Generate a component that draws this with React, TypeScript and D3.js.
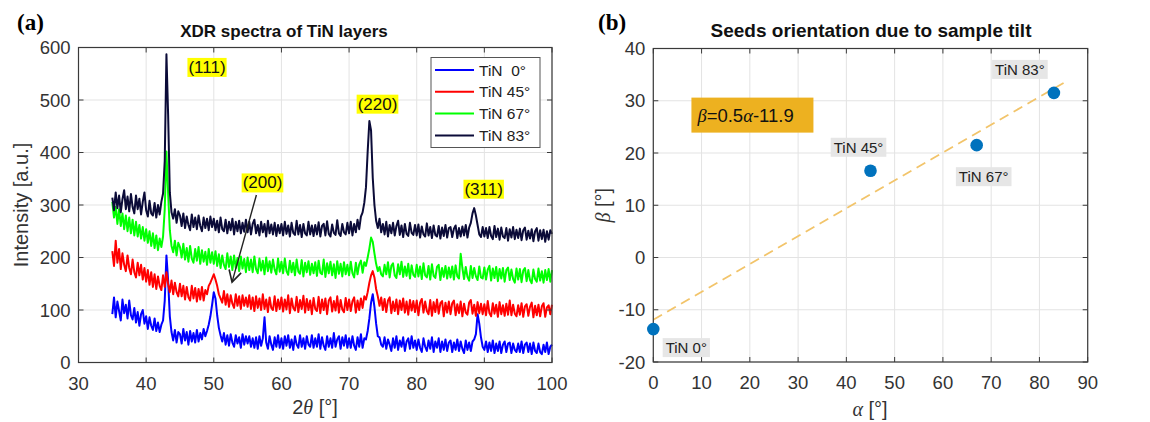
import React from "react";
import * as d3 from "d3";

// ---- XRD spectra: intensities sampled every 0.25° of 2θ, from 35° to 100° ----
const THETA_START = 35;
const THETA_STEP = 0.25;

const tin0 = [
  92, 124, 86, 116, 98, 80, 120, 94, 110, 84, 118, 90, 82, 104, 76, 96, 70, 92, 100, 74,
  88, 64, 86, 70, 62, 84, 60, 76, 58, 72, 80, 118, 204, 156, 88, 58, 42, 62, 38, 58,
  54, 36, 64, 42, 58, 34, 60, 40, 56, 38, 62, 40, 56, 44, 64, 50, 60, 72, 88, 110,
  134, 122, 90, 66, 52, 40, 56, 34, 52, 32, 54, 38, 30, 52, 36, 48, 28, 54, 34, 50,
  36, 50, 30, 46, 28, 48, 26, 50, 32, 46, 86, 38, 26, 50, 34, 24, 48, 30, 52, 28,
  46, 26, 50, 32, 52, 28, 44, 24, 50, 34, 28, 52, 30, 46, 26, 50, 34, 30, 52, 28,
  46, 30, 54, 26, 48, 32, 24, 50, 30, 46, 28, 56, 30, 44, 50, 26, 48, 32, 52, 28,
  46, 28, 50, 32, 24, 48, 30, 54, 28, 46, 44, 60, 84, 114, 130, 106, 74, 50, 48, 34,
  30, 48, 26, 44, 34, 22, 46, 28, 50, 24, 42, 30, 48, 22, 40, 46, 26, 50, 28, 42,
  24, 44, 28, 20, 46, 30, 22, 42, 26, 48, 20, 40, 28, 46, 20, 40, 24, 44, 22, 38,
  42, 20, 38, 24, 44, 22, 40, 26, 18, 42, 24, 38, 22, 40, 44, 54, 92, 74, 48, 30,
  24, 40, 20, 38, 22, 42, 18, 36, 22, 40, 18, 34, 40, 20, 36, 38, 18, 36, 24, 20,
  36, 20, 40, 18, 34, 38, 20, 36, 16, 38, 22, 18, 36, 20, 16, 34, 20, 38, 16, 30,
  34,
];

const tin45 = [
  212, 184, 232, 190, 216, 178, 208, 186, 174, 204, 180, 168, 196, 172, 162, 190, 166, 186, 158, 180,
  154, 176, 148, 172, 144, 168, 140, 164, 146, 138, 166, 144, 172, 150, 134, 156, 130, 152, 134, 126,
  150, 126, 146, 120, 144, 124, 118, 146, 122, 142, 116, 140, 120, 144, 118, 138, 130, 146, 152, 160,
  168, 158, 146, 130, 122, 114, 136, 110, 130, 106, 128, 112, 104, 130, 108, 126, 102, 128, 108, 124,
  106, 128, 102, 124, 98, 126, 104, 122, 100, 130, 102, 120, 96, 124, 104, 100, 126, 98, 120, 102,
  124, 97, 120, 101, 128, 94, 122, 104, 99, 125, 96, 119, 102, 127, 95, 121, 100, 118, 92, 123,
  102, 98, 125, 94, 120, 100, 122, 92, 118, 124, 97, 117, 99, 126, 95, 119, 101, 96, 123, 100,
  120, 98, 117, 124, 95, 118, 100, 122, 104, 126, 120, 134, 152, 166, 174, 162, 140, 126, 108, 124,
  100, 121, 96, 118, 124, 94, 116, 98, 120, 92, 118, 100, 122, 95, 116, 91, 119, 99, 117, 96,
  118, 90, 114, 121, 95, 116, 98, 92, 119, 89, 115, 96, 120, 93, 113, 117, 88, 114, 95, 116,
  92, 113, 118, 90, 111, 94, 116, 88, 112, 95, 91, 114, 119, 93, 110, 89, 115, 94, 112, 92,
  111, 90, 117, 94, 88, 113, 93, 110, 87, 115, 92, 109, 89, 112, 91, 118, 90, 110, 93, 88,
  109, 91, 113, 87, 107, 111, 89, 106, 114, 86, 108, 90, 110, 88, 107, 113, 87, 105, 109, 92,
  110,
];

const tin67 = [
  306, 276, 296, 264, 292, 260, 284, 254, 280, 250, 276, 246, 272, 242, 268, 240, 262, 236, 258, 232,
  254, 228, 250, 222, 246, 218, 242, 214, 236, 220, 240, 292, 402, 322, 252, 222, 210, 232, 204, 228,
  220, 200, 226, 196, 218, 192, 222, 198, 190, 216, 194, 220, 188, 214, 192, 211, 186, 216, 190, 210,
  188, 212, 184, 206, 180, 204, 186, 178, 208, 182, 202, 176, 204, 180, 199, 174, 202, 179, 197, 172,
  200, 176, 196, 172, 202, 178, 170, 198, 175, 194, 168, 200, 174, 193, 171, 196, 177, 168, 198, 173,
  192, 170, 198, 174, 167, 194, 172, 190, 166, 196, 173, 169, 195, 164, 190, 172, 193, 167, 188, 170,
  191, 165, 194, 171, 168, 196, 163, 189, 170, 192, 166, 187, 161, 193, 169, 188, 164, 191, 168, 186,
  166, 192, 170, 162, 190, 168, 187, 194, 171, 191, 184, 200, 217, 238, 230, 208, 188, 174, 182, 168,
  164, 186, 168, 191, 162, 184, 189, 166, 161, 187, 168, 192, 163, 183, 165, 188, 160, 185, 167, 163,
  186, 164, 183, 159, 189, 166, 162, 184, 158, 187, 165, 161, 182, 186, 157, 180, 163, 184, 160, 181,
  162, 183, 158, 185, 164, 160, 207, 180, 159, 182, 163, 156, 184, 161, 180, 164, 157, 183, 162, 160,
  181, 158, 177, 184, 156, 179, 161, 182, 155, 178, 160, 180, 154, 176, 181, 157, 177, 159, 152, 179,
  158, 178, 153, 175, 180, 155, 176, 157, 151, 177, 159, 154, 179, 156, 174, 152, 176, 157, 178, 154,
  176,
];

const tin83 = [
  314, 290, 324, 294, 318, 286, 311, 328, 292, 316, 288, 321, 296, 284, 318, 292, 312, 282, 306, 324,
  290, 278, 308, 284, 280, 304, 276, 300, 282, 306, 322, 384, 587, 472, 324, 286, 274, 292, 266, 288,
  280, 260, 284, 256, 278, 262, 252, 282, 258, 276, 254, 280, 260, 250, 276, 256, 274, 252, 278, 258,
  274, 252, 270, 248, 276, 254, 250, 272, 246, 268, 252, 274, 244, 268, 250, 270, 246, 266, 249, 272,
  248, 268, 244, 264, 272, 246, 262, 242, 268, 248, 264, 240, 270, 246, 263, 244, 266, 241, 262, 246,
  264, 242, 268, 245, 261, 240, 266, 247, 243, 270, 244, 262, 239, 264, 246, 242, 268, 244, 261, 241,
  262, 244, 267, 240, 260, 264, 242, 269, 245, 240, 263, 247, 243, 271, 246, 241, 264, 248, 244, 266,
  246, 268, 242, 264, 248, 272, 254, 278, 286, 304, 334, 402, 460, 442, 352, 300, 270, 256, 274, 248,
  264, 244, 268, 240, 262, 246, 266, 242, 260, 270, 243, 261, 239, 264, 245, 241, 266, 247, 243, 262,
  242, 263, 238, 259, 244, 240, 265, 242, 258, 237, 261, 243, 240, 260, 236, 257, 241, 262, 238, 256,
  258, 239, 255, 261, 237, 256, 240, 259, 242, 262, 238, 257, 266, 284, 294, 280, 262, 244, 239, 258,
  240, 256, 237, 258, 241, 235, 260, 239, 255, 234, 257, 240, 237, 256, 232, 254, 238, 258, 235, 253,
  237, 255, 233, 252, 257, 234, 251, 236, 254, 231, 250, 256, 232, 252, 235, 253, 230, 250, 234, 252,
  245,
];

const SERIES_NAMES = ["TiN  0°", "TiN 45°", "TiN 67°", "TiN 83°"];
const SERIES_COLORS = ["#0000ff", "#ff0000", "#00ff00", "#0b0b38"];

const XRD_X_TICKS = [30, 40, 50, 60, 70, 80, 90, 100];
const XRD_Y_TICKS = [0, 100, 200, 300, 400, 500, 600];

// Miller-index tags, anchored at (2θ, intensity)
const PEAK_TAGS = ["(111)", "(220)", "(200)", "(311)"];
const PEAK_TAG_THETA = [49.0, 74.2, 57.2, 89.9];
const PEAK_TAG_INTENSITY = [563, 493, 343, 331];

// ---- Tilt panel ----
const tiltAlpha = [0, 45, 67, 83];
const tiltBeta = [-13.7, 16.6, 21.5, 31.5];
const tiltNames = ["TiN 0°", "TiN 45°", "TiN 67°", "TiN 83°"];
const FIT_SLOPE = 0.533;
const FIT_INTERCEPT = -11.9;
const FIT_ALPHA_END = 85;

const TILT_X_TICKS = [0, 10, 20, 30, 40, 50, 60, 70, 80, 90];
const TILT_Y_TICKS = [-20, -10, 0, 10, 20, 30, 40];

const FONT = "'Liberation Sans', Arial, Helvetica, sans-serif";
const SERIF = "'Liberation Serif', 'Times New Roman', serif";
const AXIS_COLOR = "#3a3a3a";
const TICK_TEXT = "#333333";
const GRID_COLOR = "#e3e3e3";

type Sel = d3.Selection<SVGGElement, unknown, null, undefined>;
type Lin = d3.ScaleLinear<number, number>;

function drawGrid(g: Sel, x: Lin, y: Lin, xTicks: number[], yTicks: number[]) {
  const [x0, x1] = x.range();
  const [y0, y1] = y.range();
  const grid = g.append("g").attr("stroke", GRID_COLOR).attr("stroke-width", 1);
  grid
    .selectAll("line.gx")
    .data(xTicks)
    .join("line")
    .attr("x1", (d) => x(d))
    .attr("x2", (d) => x(d))
    .attr("y1", y0)
    .attr("y2", y1);
  grid
    .selectAll("line.gy")
    .data(yTicks)
    .join("line")
    .attr("x1", x0)
    .attr("x2", x1)
    .attr("y1", (d) => y(d))
    .attr("y2", (d) => y(d));
}

function drawBox(g: Sel, x: Lin, y: Lin, xTicks: number[], yTicks: number[]) {
  const [x0, x1] = x.range();
  const [y0, y1] = y.range();
  const tl = 5;
  const t = g.append("g").attr("stroke", AXIS_COLOR).attr("stroke-width", 1);
  xTicks.forEach((d) => {
    t.append("line").attr("x1", x(d)).attr("x2", x(d)).attr("y1", y0).attr("y2", y0 - tl);
    t.append("line").attr("x1", x(d)).attr("x2", x(d)).attr("y1", y1).attr("y2", y1 + tl);
  });
  yTicks.forEach((d) => {
    t.append("line").attr("x1", x0).attr("x2", x0 + tl).attr("y1", y(d)).attr("y2", y(d));
    t.append("line").attr("x1", x1).attr("x2", x1 - tl).attr("y1", y(d)).attr("y2", y(d));
  });
  g.append("rect")
    .attr("x", x0)
    .attr("y", y1)
    .attr("width", x1 - x0)
    .attr("height", y0 - y1)
    .attr("fill", "none")
    .attr("stroke", AXIS_COLOR)
    .attr("stroke-width", 1.2);

  const labels = g.append("g").attr("font-family", FONT).attr("font-size", 18.5).attr("fill", TICK_TEXT);
  labels
    .selectAll("text.xt")
    .data(xTicks)
    .join("text")
    .attr("x", (d) => x(d))
    .attr("y", y0 + 27)
    .attr("text-anchor", "middle")
    .text((d) => String(d));
  labels
    .selectAll("text.yt")
    .data(yTicks)
    .join("text")
    .attr("x", x0 - 8)
    .attr("y", (d) => y(d) + 6.5)
    .attr("text-anchor", "end")
    .text((d) => String(d));
}

function drawXrd(svg: d3.Selection<SVGSVGElement, unknown, null, undefined>) {
  const x = d3.scaleLinear().domain([30, 100]).range([78.5, 552]);
  const y = d3.scaleLinear().domain([0, 600]).range([362.5, 47.5]);
  const g = svg.append("g");

  drawGrid(g, x, y, XRD_X_TICKS, XRD_Y_TICKS);

  const series = [tin0, tin45, tin67, tin83];
  const line = d3
    .line<number>()
    .x((_, i) => x(THETA_START + i * THETA_STEP))
    .y((d) => y(d));
  series.forEach((s, k) => {
    g.append("path")
      .attr("d", line(s) as string)
      .attr("fill", "none")
      .attr("stroke", SERIES_COLORS[k])
      .attr("stroke-width", 2)
      .attr("stroke-linejoin", "round");
  });

  drawBox(g, x, y, XRD_X_TICKS, XRD_Y_TICKS);

  // Miller-index tags with yellow backgrounds
  PEAK_TAGS.forEach((tag, i) => {
    const cx = x(PEAK_TAG_THETA[i]);
    const cy = y(PEAK_TAG_INTENSITY[i]);
    const tg = g.append("g");
    const txt = tg
      .append("text")
      .attr("x", cx)
      .attr("y", cy + 6)
      .attr("text-anchor", "middle")
      .attr("font-family", FONT)
      .attr("font-size", 17)
      .attr("fill", "#111")
      .text(tag);
    const bb = (txt.node() as SVGTextElement).getBBox();
    tg.insert("rect", "text")
      .attr("x", bb.x - 1)
      .attr("y", cy - 9)
      .attr("width", bb.width + 2)
      .attr("height", 19)
      .attr("fill", "#ffff00");
  });

  // Arrow pointing to the weak (200) reflection
  const ax0 = x(56.3), ay0 = y(319);
  const ax1 = x(52.7), ay1 = y(153);
  g.append("line")
    .attr("x1", ax0).attr("y1", ay0).attr("x2", ax1).attr("y2", ay1)
    .attr("stroke", "#222").attr("stroke-width", 1.4);
  const ang = Math.atan2(ay0 - ay1, ax0 - ax1);
  const hl = 13, spread = 0.5;
  g.append("path")
    .attr(
      "d",
      `M${ax1 + hl * Math.cos(ang - spread)},${ay1 + hl * Math.sin(ang - spread)}L${ax1},${ay1}L${ax1 + hl * Math.cos(ang + spread)},${ay1 + hl * Math.sin(ang + spread)}`
    )
    .attr("fill", "none")
    .attr("stroke", "#222")
    .attr("stroke-width", 1.6);

  // Legend
  const lg = g.append("g");
  lg.append("rect")
    .attr("x", 431).attr("y", 57.5).attr("width", 109).attr("height", 90)
    .attr("fill", "#fff").attr("stroke", "#555").attr("stroke-width", 1);
  SERIES_NAMES.forEach((name, i) => {
    const yy = 70 + i * 21.8;
    lg.append("line")
      .attr("x1", 435).attr("x2", 474).attr("y1", yy).attr("y2", yy)
      .attr("stroke", SERIES_COLORS[i]).attr("stroke-width", 2);
    lg.append("text")
      .attr("x", 479).attr("y", yy + 5.5)
      .attr("font-family", FONT).attr("font-size", 15.5).attr("fill", "#222")
      .attr("xml:space", "preserve")
      .style("white-space", "pre")
      .text(name);
  });

  // Titles
  g.append("text")
    .attr("x", 284).attr("y", 37)
    .attr("text-anchor", "middle")
    .attr("font-family", FONT).attr("font-size", 17).attr("font-weight", "bold").attr("fill", "#111")
    .text("XDR spectra of TiN layers");
  g.append("text")
    .attr("x", 17).attr("y", 30)
    .attr("font-family", SERIF)
    .attr("font-size", 23).attr("font-weight", "bold").attr("fill", "#000")
    .text("(a)");

  const xl = g.append("text")
    .attr("x", 315).attr("y", 414)
    .attr("text-anchor", "middle")
    .attr("font-family", FONT).attr("font-size", 20).attr("fill", TICK_TEXT);
  xl.append("tspan").text("2");
  xl.append("tspan").attr("font-style", "italic").attr("font-family", SERIF).text("θ");
  xl.append("tspan").text(" [°]");

  g.append("text")
    .attr("transform", `translate(28,${y(300)}) rotate(-90)`)
    .attr("text-anchor", "middle")
    .attr("font-family", FONT).attr("font-size", 20).attr("fill", TICK_TEXT)
    .text("Intensity [a.u.]");
}

function drawTilt(svg: d3.Selection<SVGSVGElement, unknown, null, undefined>) {
  const x = d3.scaleLinear().domain([0, 90]).range([653.3, 1087.7]);
  const y = d3.scaleLinear().domain([-20, 40]).range([362, 48.5]);
  const g = svg.append("g");

  drawGrid(g, x, y, TILT_X_TICKS, TILT_Y_TICKS);

  // Linear fit
  const fit = d3
    .line<number>()
    .x((a) => x(a))
    .y((a) => y(FIT_SLOPE * a + FIT_INTERCEPT));
  g.append("path")
    .attr("d", fit([0, FIT_ALPHA_END]) as string)
    .attr("fill", "none")
    .attr("stroke", "#f2c46a")
    .attr("stroke-width", 1.8)
    .attr("stroke-dasharray", "10,6");

  drawBox(g, x, y, TILT_X_TICKS, TILT_Y_TICKS);

  // Measured points
  g.selectAll("circle.pt")
    .data(tiltAlpha)
    .join("circle")
    .attr("cx", (d) => x(d))
    .attr("cy", (_, i) => y(tiltBeta[i]))
    .attr("r", 6.3)
    .attr("fill", "#0072bd");

  // Point labels (offsets in px from each point: dx to label centre, dy to baseline)
  const offs = [
    [33, 24],
    [-12, -18],
    [7, 37],
    [-34, -18],
  ];
  tiltNames.forEach((name, i) => {
    const px = x(tiltAlpha[i]) + offs[i][0];
    const py = y(tiltBeta[i]) + offs[i][1];
    const tg = g.append("g");
    const txt = tg
      .append("text")
      .attr("x", px).attr("y", py)
      .attr("text-anchor", "middle")
      .attr("font-family", FONT).attr("font-size", 15).attr("fill", "#222")
      .text(name);
    const bb = (txt.node() as SVGTextElement).getBBox();
    tg.insert("rect", "text")
      .attr("x", bb.x - 3).attr("y", bb.y - 1)
      .attr("width", bb.width + 6).attr("height", bb.height + 2)
      .attr("fill", "#e6e6e6");
  });

  // Fit equation box
  const eg = g.append("g");
  eg.append("rect")
    .attr("x", x(7.9)).attr("y", y(30.6))
    .attr("width", 122).attr("height", 35)
    .attr("fill", "#edb120");
  const et = eg.append("text")
    .attr("x", x(7.9) + 6).attr("y", y(30.6) + 24)
    .attr("font-family", FONT).attr("font-size", 18.5).attr("fill", "#111");
  et.append("tspan").attr("font-style", "italic").attr("font-family", SERIF).text("β");
  et.append("tspan").text(`=${FIT_SLOPE.toFixed(1)}`);
  et.append("tspan").attr("font-style", "italic").attr("font-family", SERIF).text("α");
  et.append("tspan").text(`${FIT_INTERCEPT.toFixed(1)}`);

  // Titles
  g.append("text")
    .attr("x", 871).attr("y", 37)
    .attr("text-anchor", "middle")
    .attr("font-family", FONT).attr("font-size", 19).attr("font-weight", "bold").attr("fill", "#111")
    .text("Seeds orientation due to sample tilt");
  g.append("text")
    .attr("x", 598).attr("y", 30)
    .attr("font-family", SERIF)
    .attr("font-size", 23).attr("font-weight", "bold").attr("fill", "#000")
    .text("(b)");

  const xl = g.append("text")
    .attr("x", 870).attr("y", 416)
    .attr("text-anchor", "middle")
    .attr("font-family", FONT).attr("font-size", 20).attr("fill", TICK_TEXT);
  xl.append("tspan").attr("font-style", "italic").attr("font-family", SERIF).text("α");
  xl.append("tspan").text(" [°]");

  const yl = g.append("text")
    .attr("transform", `translate(610,${y(10)}) rotate(-90)`)
    .attr("text-anchor", "middle")
    .attr("font-family", FONT).attr("font-size", 20).attr("fill", TICK_TEXT);
  yl.append("tspan").attr("font-style", "italic").attr("font-family", SERIF).text("β");
  yl.append("tspan").text(" [°]");
}

export default function App() {
  const ref = React.useRef<SVGSVGElement>(null);
  React.useEffect(() => {
    if (!ref.current) return;
    const svg = d3.select(ref.current);
    svg.selectAll("*").remove();
    drawXrd(svg);
    drawTilt(svg);
  }, []);
  return (
    <svg
      ref={ref}
      width={1150}
      height={422}
      style={{ position: "absolute", left: 0, top: 0, background: "#fff", display: "block" }}
    />
  );
}
